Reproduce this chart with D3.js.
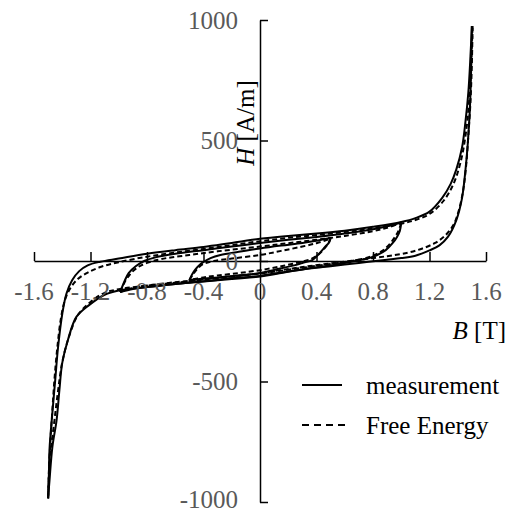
<!DOCTYPE html>
<html>
<head>
<meta charset="utf-8">
<script src="https://cdn.jsdelivr.net/npm/d3@7"></script>
<style>
  html, body { margin: 0; padding: 0; background: #fff; }
  svg { display: block; }
</style>
</head>
<body>
<div id="chart"></div>
<script>
// ---------- DATA (B [T], H [A/m]) ----------
const xTicks = [-1.6, -1.2, -0.8, -0.4, 0, 0.4, 0.8, 1.2, 1.6];
const xTickLabels = ["-1.6", "-1.2", "-0.8", "-0.4", "0", "0.4", "0.8", "1.2", "1.6"];
const yTicks = [-1000, -500, 0, 500, 1000];
const yTickLabels = ["-1000", "-500", "0", "500", "1000"];
const seriesNames = ["measurement", "Free Energy"];

// measurement, major loop
const meas1Up = [[-1.50,-985],[-1.495,-900],[-1.49,-780],[-1.47,-630],[-1.45,-495],[-1.43,-360],[-1.40,-220],[-1.37,-135],[-1.33,-80],[-1.28,-42],[-1.22,-18],[-1.13,-3],[-1.0,10],[-0.8,30],[-0.6,45],[-0.4,58],[-0.2,75],[0,92],[0.2,104],[0.4,114],[0.6,126],[0.8,142],[1.0,162],[1.1,178],[1.2,205],[1.29,262],[1.35,320],[1.39,380],[1.43,470],[1.455,580],[1.475,700],[1.49,850],[1.50,975]];
const meas1Down = [[1.50,975],[1.495,800],[1.485,620],[1.47,480],[1.455,380],[1.43,260],[1.39,170],[1.33,100],[1.27,65],[1.2,44],[1.1,22],[1.0,12],[0.9,5],[0.7,-8],[0.5,-22],[0.3,-35],[0.1,-52],[0,-62],[-0.2,-72],[-0.4,-85],[-0.6,-95],[-0.8,-108],[-1.0,-122],[-1.1,-140],[-1.21,-183],[-1.30,-232],[-1.36,-328],[-1.40,-423],[-1.42,-535],[-1.44,-660],[-1.47,-772],[-1.49,-909],[-1.50,-985]];
// measurement, loop to 1.0 T
const meas2Up = [[-0.99,-129],[-0.96,-85],[-0.93,-50],[-0.88,-22],[-0.82,0],[-0.74,15],[-0.6,30],[-0.4,45],[-0.2,60],[0,75],[0.2,88],[0.4,100],[0.6,114],[0.8,132],[0.9,144],[1.0,160]];
const meas2Down = [[1.0,160],[0.99,125],[0.97,100],[0.94,75],[0.89,45],[0.83,25],[0.76,10],[0.71,4],[0.6,-8],[0.52,-17],[0.4,-26],[0.28,-37],[0.15,-50],[0.07,-58],[0,-64],[-0.2,-75],[-0.4,-84],[-0.6,-95],[-0.8,-108],[-0.9,-116],[-0.99,-129]];
// measurement, loop to 0.5 T
const meas3Up = [[-0.50,-79],[-0.48,-55],[-0.46,-37],[-0.43,-18],[-0.41,-8],[-0.35,12],[-0.28,25],[-0.15,38],[0,52],[0.15,64],[0.3,75],[0.4,84],[0.5,95]];
const meas3Down = [[0.50,95],[0.49,78],[0.46,58],[0.41,25],[0.37,4],[0.3,-8],[0.25,-17],[0.1,-37],[0,-50],[-0.15,-60],[-0.3,-68],[-0.4,-73],[-0.5,-79]];

// Free Energy model
const model1Up = [[-1.50,-985],[-1.495,-880],[-1.485,-760],[-1.47,-620],[-1.455,-490],[-1.435,-360],[-1.41,-240],[-1.38,-160],[-1.34,-110],[-1.29,-75],[-1.22,-48],[-1.13,-25],[-1.0,-5],[-0.8,18],[-0.6,35],[-0.4,50],[-0.2,66],[0,82],[0.2,96],[0.4,108],[0.6,120],[0.8,136],[1.0,155],[1.1,170],[1.2,195],[1.3,250],[1.37,320],[1.42,410],[1.455,520],[1.48,660],[1.495,820],[1.505,975]];
const model1Down = [[1.505,975],[1.50,820],[1.49,660],[1.475,520],[1.46,400],[1.44,300],[1.41,215],[1.37,150],[1.31,105],[1.24,75],[1.15,52],[1.05,35],[0.9,20],[0.7,5],[0.5,-10],[0.3,-25],[0.1,-42],[0,-52],[-0.2,-64],[-0.4,-78],[-0.6,-90],[-0.8,-102],[-1.0,-117],[-1.1,-132],[-1.2,-170],[-1.29,-225],[-1.35,-310],[-1.40,-420],[-1.43,-540],[-1.455,-660],[-1.48,-780],[-1.495,-900],[-1.50,-985]];
const model2Up = [[-0.99,-129],[-0.96,-90],[-0.92,-55],[-0.87,-28],[-0.8,-8],[-0.7,8],[-0.5,25],[-0.3,40],[0,60],[0.2,74],[0.4,88],[0.6,104],[0.8,124],[0.9,138],[1.0,158]];
const model2Down = [[1.0,158],[0.98,125],[0.95,95],[0.91,65],[0.86,40],[0.8,22],[0.72,8],[0.6,-4],[0.4,-20],[0.2,-36],[0,-52],[-0.2,-64],[-0.4,-76],[-0.6,-88],[-0.8,-102],[-0.9,-112],[-0.99,-129]];
const model3Up = [[-0.50,-79],[-0.47,-52],[-0.44,-30],[-0.40,-12],[-0.33,0],[-0.2,10],[0,25],[0.15,42],[0.3,60],[0.4,74],[0.47,87],[0.5,95]];
const model3Down = [[0.5,95],[0.48,70],[0.45,48],[0.41,25],[0.36,8],[0.28,-5],[0.15,-22],[0,-38],[-0.15,-50],[-0.3,-60],[-0.4,-68],[-0.5,-79]];

const measurement = [meas1Up, meas1Down, meas2Up, meas2Down, meas3Up, meas3Down];
const freeEnergy = [model1Up, model1Down, model2Up, model2Down, model3Up, model3Down];

// ---------- LAYOUT ----------
const W = 510, H = 511;
const svg = d3.select("#chart").append("svg").attr("width", W).attr("height", H);

const x = d3.scaleLinear().domain([-1.6, 1.6]).range([34, 486]);
const y = d3.scaleLinear().domain([-1000, 1000]).range([502, 20]);

const FONT = "'Liberation Serif', 'Times New Roman', serif";
const GRAY = "#595959";

const line = d3.line().x(d => x(d[0])).y(d => y(d[1])).curve(d3.curveCatmullRom.alpha(0.5));

// ---------- SERIES ----------
const gM = svg.append("g");
measurement.forEach(s => gM.append("path").attr("d", line(s))
  .attr("fill", "none").attr("stroke", "#000").attr("stroke-width", 2));
const gF = svg.append("g");
freeEnergy.forEach(s => gF.append("path").attr("d", line(s))
  .attr("fill", "none").attr("stroke", "#000").attr("stroke-width", 2)
  .attr("stroke-dasharray", "5,3"));

// ---------- AXES ----------
const xAxis = d3.axisTop(x).tickValues(xTicks).tickSize(9).tickSizeOuter(0).tickFormat("");
const gx = svg.append("g").attr("transform", `translate(0,${y(0)})`).call(xAxis);
gx.selectAll("path, line").attr("stroke", "#000").attr("stroke-width", 1.5);

const yAxis = d3.axisRight(y).tickValues(yTicks).tickSize(8).tickSizeOuter(0).tickFormat("");
const gy = svg.append("g").attr("transform", `translate(${x(0)},0)`).call(yAxis);
gy.selectAll("path, line").attr("stroke", "#000").attr("stroke-width", 1.5);

// tick labels
svg.append("g").selectAll("text").data(xTicks).join("text")
  .attr("x", d => x(d)).attr("y", 300)
  .attr("text-anchor", "middle")
  .attr("font-family", FONT).attr("font-size", 25).attr("fill", GRAY)
  .text((d, i) => xTickLabels[i]);

svg.append("g").selectAll("text").data(yTicks).join("text")
  .attr("x", 238).attr("y", d => Math.min(y(d), 499)).attr("dy", "0.34em")
  .attr("text-anchor", "end")
  .attr("font-family", FONT).attr("font-size", 25).attr("fill", GRAY)
  .text((d, i) => yTickLabels[i]);

// axis titles
const ht = svg.append("text")
  .attr("transform", "translate(254,123) rotate(-90)")
  .attr("text-anchor", "middle")
  .attr("font-family", FONT).attr("font-size", 25).attr("fill", "#000");
ht.append("tspan").attr("font-style", "italic").text("H");
ht.append("tspan").text(" [A/m]");

const bt = svg.append("text")
  .attr("x", 506).attr("y", 339)
  .attr("text-anchor", "end")
  .attr("font-family", FONT).attr("font-size", 25).attr("fill", "#000");
bt.append("tspan").attr("font-style", "italic").text("B");
bt.append("tspan").text(" [T]");

// ---------- LEGEND ----------
const legend = svg.append("g");
const legY = [385, 425];
const legDash = [null, "7,5"];
seriesNames.forEach((name, i) => {
  legend.append("line")
    .attr("x1", 302).attr("x2", i === 0 ? 342 : 348)
    .attr("y1", legY[i]).attr("y2", legY[i])
    .attr("stroke", "#000").attr("stroke-width", 2)
    .attr("stroke-dasharray", legDash[i]);
  legend.append("text")
    .attr("x", 366).attr("y", legY[i]).attr("dy", "0.34em")
    .attr("font-family", FONT).attr("font-size", 25).attr("fill", "#000")
    .text(name);
});
</script>
</body>
</html>
